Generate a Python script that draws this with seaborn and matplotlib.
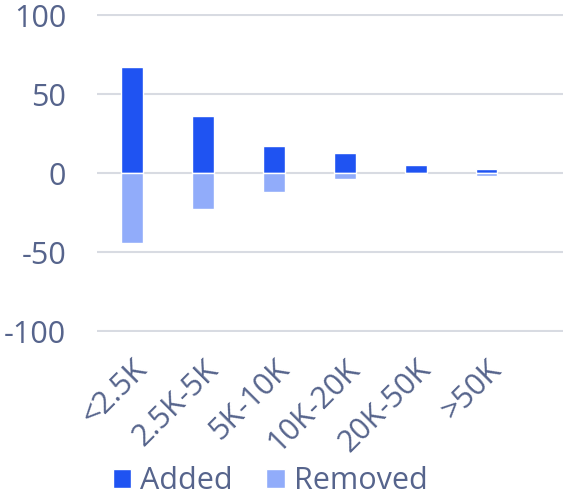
import pandas as pd
import matplotlib.pyplot as plt
import seaborn as sns

# values
categories = ["<2.5K", "2.5K-5K", "5K-10K", "10K-20K", "20K-50K", ">50K"]
added = [67, 36, 17, 13, 5, 2.5]
removed = [-44, -23, -12, -4, 0, -2]
series = ["Added", "Removed"]
y_ticks = [-100, -50, 0, 50, 100]

df = pd.concat([
    pd.DataFrame({"bucket": categories, "value": added, "series": "Added"}),
    pd.DataFrame({"bucket": categories, "value": removed, "series": "Removed"}),
])

sns.set_style("white")
plt.rcParams["font.family"] = ["Open Sans", "DejaVu Sans"]
plt.rcParams["axes.unicode_minus"] = False
text_color = "#56648c"

fig = plt.figure(figsize=(5.63, 4.96), dpi=100)
ax = fig.add_axes([0.172, 0.331, 0.828, 0.64])

sns.barplot(data=df, x="bucket", y="value", hue="series", order=categories,
            hue_order=series, palette=["#1f53f2", "#91acfa"], dodge=False,
            width=0.31, saturation=1, ax=ax)

ax.set_ylim(-100.5, 100.5)
ax.set_xlim(-0.5, 6.08)
ax.set_yticks(y_ticks)
ax.yaxis.grid(True, color="#d8dbe2", linewidth=1.5)
ax.set_axisbelow(True)
sns.despine(ax=ax, left=True, bottom=True)
ax.set_xlabel("")
ax.set_ylabel("")
ax.tick_params(axis="y", length=0, pad=22, labelsize=22, labelcolor=text_color)
ax.tick_params(axis="x", length=0, pad=16, labelsize=22, labelcolor=text_color)
plt.setp(ax.get_xticklabels(), rotation=45, ha="right", rotation_mode="anchor")

handles, labels = ax.get_legend_handles_labels()
ax.legend_.remove()
leg = fig.legend(handles, labels, ncol=2, frameon=False, loc="lower center",
                 bbox_to_anchor=(0.48, -0.056), fontsize=22,
                 handlelength=0.6, handleheight=0.6, handletextpad=0.3,
                 columnspacing=1.1)
for t in leg.get_texts():
    t.set_color(text_color)

fig.savefig("out.png", dpi=100)
